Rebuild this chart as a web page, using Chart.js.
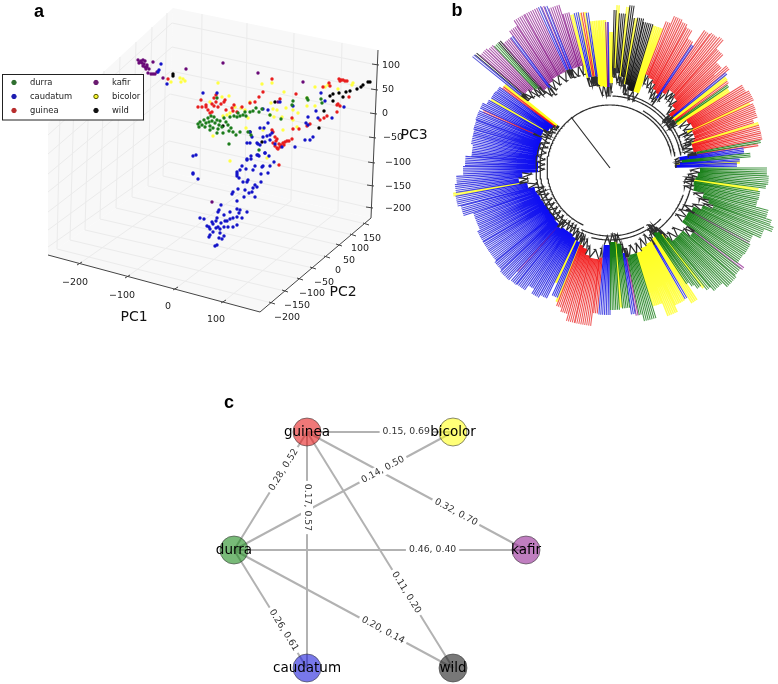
<!DOCTYPE html>
<html>
<head>
<meta charset="utf-8">
<title>Sorghum PCA, tree and network</title>
<script src="https://cdn.jsdelivr.net/npm/chart.js@4"></script>
<style>
    html, body { margin: 0; background: #fff; }
    canvas { position: absolute; }
</style>
</head>
<body>
<canvas id="pcaChart" width="445" height="340" style="left:0;top:0"></canvas>
<canvas id="treeChart" width="333" height="340" style="left:445px;top:0"></canvas>
<canvas id="networkChart" width="360" height="294" style="left:200px;top:390px"></canvas>
<script>
// panel a: projected position of each sample in the plot plane
const durra = [[198,124],[200,122],[202,125],[199,127],[204,120],[206,123],[208,118],[205,127],[209,122],[211,116],[212,121],[210,126],[213,128],[215,123],[217,120],[214,117],[219,125],[220,121],[218,129],[222,127],[224,118],[226,122],[228,125],[231,128],[233,132],[236,135],[229,131],[223,133],[217,133],[210,130],[230,117],[234,116],[237,117],[240,116],[243,115],[238,113],[245,112],[246,116],[250,112],[253,111],[259,112],[256,108],[262,109],[229,144],[240,132],[248,132],[251,135],[293,101],[292,105],[307,98],[308,100],[321,99],[322,103],[281,119],[270,115],[259,150],[217,98]];
const caudatum = [[161,64],[159,70],[158,72],[167,84],[203,93],[217,93],[193,156],[196,155],[193,173],[193,174],[198,179],[250,132],[252,137],[247,143],[250,143],[257,143],[258,144],[260,145],[263,137],[267,136],[270,135],[265,142],[260,128],[264,128],[268,123],[263,109],[268,110],[257,155],[259,156],[265,153],[247,159],[251,156],[274,162],[269,156],[295,147],[305,140],[310,140],[313,137],[306,123],[308,117],[318,118],[316,111],[321,93],[325,101],[332,118],[344,107],[293,106],[280,102],[308,125],[282,147],[275,144],[272,133],[270,140],[247,160],[242,166],[251,159],[258,155],[265,153],[270,166],[263,166],[262,167],[255,166],[253,170],[246,169],[240,170],[237,172],[237,176],[239,178],[237,174],[261,174],[268,173],[261,182],[255,185],[248,180],[247,182],[243,182],[257,187],[253,188],[252,192],[249,193],[245,190],[238,189],[233,192],[232,194],[244,197],[255,197],[237,201],[221,205],[219,210],[218,212],[237,209],[240,210],[230,212],[247,212],[224,215],[239,213],[237,217],[233,218],[230,219],[227,221],[225,221],[242,218],[200,218],[204,219],[217,218],[216,221],[212,222],[221,223],[213,224],[207,226],[209,227],[210,229],[216,228],[218,227],[220,229],[224,227],[228,227],[233,227],[237,225],[213,232],[210,235],[209,237],[220,233],[224,236],[219,238],[222,239],[217,245],[215,246]];
const guinea = [[201,100],[206,105],[198,107],[202,107],[206,107],[208,110],[210,113],[212,104],[214,106],[216,102],[218,107],[221,104],[224,102],[226,110],[232,108],[233,111],[234,105],[237,112],[242,107],[214,98],[216,95],[225,100],[212,112],[250,103],[255,102],[259,97],[263,92],[272,79],[296,94],[280,99],[292,118],[293,129],[299,129],[307,126],[310,124],[273,143],[275,146],[277,148],[279,144],[281,145],[283,143],[285,142],[287,141],[289,141],[276,141],[278,149],[280,147],[284,145],[292,139],[272,130],[273,132],[275,137],[277,139],[339,79],[341,80],[343,80],[345,81],[347,81],[340,81],[323,87],[329,83],[330,86],[337,105],[338,104],[340,106],[337,112],[349,97],[324,118],[320,120],[327,116],[279,165],[168,79]];
const kafir = [[138,60],[141,61],[143,60],[145,61],[139,63],[142,63],[144,64],[147,65],[140,62],[143,66],[145,67],[147,67],[149,69],[146,69],[151,74],[148,73],[153,74],[155,74],[157,72],[153,62],[163,78],[186,69],[223,63],[258,73],[303,82],[212,202],[278,102]];
const bicolor = [[180,78],[183,79],[181,82],[185,81],[171,82],[218,83],[229,96],[222,97],[210,102],[262,84],[272,83],[284,92],[250,102],[245,110],[241,108],[235,107],[227,115],[223,116],[230,113],[213,136],[230,161],[267,158],[271,103],[273,109],[277,110],[270,115],[274,117],[282,117],[286,108],[293,110],[298,113],[293,120],[283,130],[297,127],[307,106],[307,98],[315,106],[315,87],[325,87],[328,85],[338,89],[352,85],[353,83],[248,118],[246,128],[263,130]];
const wild = [[370,82],[368,82],[363,85],[361,87],[357,89],[350,91],[346,92],[343,97],[339,93],[333,94],[333,101],[330,96],[324,111],[319,128],[275,102],[223,126],[250,132],[262,142],[173,74],[173,76]];

const groupNames = ['durra', 'caudatum', 'guinea', 'kafir', 'bicolor', 'wild'];
const groupPoints = [durra, caudatum, guinea, kafir, bicolor, wild];
const dotColors = ['#1c7c1c', '#1414c8', '#e81e1e', '#6a0a78', '#ffff44', '#000000'];
const legendColors = ['#2f6f2f', '#1c1cb0', '#b82c2c', '#6a1a70', '#f4f430', '#111111'];

const pc1Ticks = ['\u2212200', '\u2212100', '0', '100'];
const pc2Ticks = ['\u2212200', '\u2212150', '\u2212100', '\u221250', '0', '50', '100', '150'];
const pc3Ticks = ['100', '50', '0', '\u221250', '\u2212100', '\u2212150', '\u2212200'];

// plot box of panel a
const leftWall = [[48,123],[173,8],[168,172],[48,255]];
const backWall = [[173,8],[378,50],[371,218],[168,172]];
const floorPane = [[48,255],[260,312],[371,218],[168,172]];
const pc1Front = [[79,264],[127,277],[175,289],[223,302]];
const pc1Back = [[200,179],[245,190],[291,201],[338,211]];
const pc1Top = [[202,14],[247,23],[294,33],[342,43]];
const pc2Front = [[272,303],[285,291],[300,279],[313,268],[327,257],[339,245],[353,235],[366,224]];
const pc2Back = [[57,249],[70,240],[85,230],[100,219],[116,208],[132,197],[148,186],[163,176]];
const pc2Top = [[60,112],[74,99],[89,85],[104,71],[120,57],[136,42],[152,27],[167,13]];
const pc3Right = [[377,65],[376,90],[375,114],[374,138],[373,163],[372,186],[371,208]];
const pc3Back = [[172,23],[172,47],[171,71],[170,94],[170,118],[169,141],[169,162]];
const pc3Left = [[48,135],[48,154],[48,174],[48,192],[48,212],[48,230],[48,247]];
const pc1LabelPos = [[75,283],[122,296],[168,307],[216,320]];
const pc2LabelPos = [[287,318],[297,306],[312,294],[324,283],[338,271],[349,261],[360,249],[372,239]];
const pc3LabelPos = [[391,66],[388,90],[385,114],[393,138],[398,163],[398,187],[398,209]];

// panel b: leaf runs, angle in degrees clockwise from east, radius in tree units
const runStart = [0,3,6,8,9,12,15,18,20,22,25,27.9,28.8,33,36.7,37.7,41,46,50,51.5,52.5,54.5,55.8,56.6,59.4,60.8,65,69,73,78,79.2,80.2,82,85.2,86.2,90,95,97,103,106,109,111.2,112.2,115,116,119,122,125,129,131.2,132.2,137,141,146,150,155,160,162,166,170,171,174,177,181,185,190,196,200,203.8,204.8,207,209.6,210.6,214,216.6,217.5,219,220,221,224,226.5,228.5,229.5,232.8,233.8,237,241,246,247,248,249,253,255.7,257,258.5,259.5,260.5,261.3,262.5,266,268.3,269.3,270,271.5,272.5,273.5,276,277,278.5,279.5,280.5,283,287,291,293,296,298.6,301,303.5,304.5,307,310,312,315,318,318.8,320.5,321.5,323.5,324.8,326,328,331,334.8,335.8,338,341,343,344,347,349.7,350.7,351.5,354,355.5,357,357.8];
const runGroup = ['g','g','g','y','g','g','g','g','g','g','g','k','g','g','k','g','g','g','g','y','g','g','g','y','c','y','y','y','g','g','k','c','g','y','g','c','r','r','r','r','r','y','c','y','c','c','c','c','c','k','c','c','c','c','c','c','c','c','c','y','c','c','c','c','c','c','c','c','r','c','c','y','c','c','r','y','c','w','k','k','g','w','k','c','k','k','k','c','k','c','k','k','y','c','y','r','y','c','y','y','k','c','y','w','y','w','y','w','w','y','w','w','y','r','r','r','r','r','c','r','r','r','r','r','r','r','c','y','r','g','y','r','r','y','r','r','r','y','r','r','g','r','c','g','c','y','c'];
const runInner = [90,88,86,85,85,86,97,104,110,100,92,96,90,90,106,105,96,96,90,84,80,78,77,82,89,84,86,89,89,91,91,86,76,74,74,77,90,92,90,84,82,80,80,80,78,76,76,76,78,79,76,74,74,74,75,76,77,78,84,92,92,88,72,72,73,73,73,74,84,76,76,77,72,70,68,68,115,115,113,110,108,108,102,100,104,106,106,107,107,106,106,106,93,93,93,93,93,92,82,81,81,81,85,100,100,95,92,92,92,85,85,80,80,100,98,95,90,88,84,92,98,98,95,88,79,80,82,80,80,80,80,90,92,85,90,90,88,85,85,85,88,88,70,72,70,65,65];
const runOuter = [157,159,157,150,152,151,164,170,174,166,158,158,160,159,167,165,167,161,156,152,149,144,139,158,151,152,159,145,157,150,150,148,141,140,142,147,146,159,159,152,148,144,140,127,145,148,143,149,150,139,151,149,147,147,147,144,144,154,157,159,156,154,147,145,139,141,142,143,139,143,139,137,138,137,134,134,177,176,172,170,168,168,164,164,170,176,176,176,175,174,171,161,158,159,158,158,158,157,148,148,146,146,136,158,163,155,162,164,152,152,153,150,149,157,165,163,160,151,148,167,169,171,160,150,140,155,150,147,146,144,142,156,159,154,157,156,151,155,155,155,153,150,135,141,130,130,127];
const leafColors = { g: '#0c780c', y: '#ffff10', c: '#0606f4', r: '#f41010', k: '#7d0a7d', w: '#111111' };
const leafTipColors = { g: '#5aa25a', y: '#ffff60', c: '#6464dc', r: '#ee6c6c', k: '#b060b0', w: '#3a3a3a' };

// panel b: main branches of the tree
const arcRadius = [63,66,72,75,63,70,74,68,72,78,83];
const arcStart = [233,300,272,280,115,120,130,60,45,20,5];
const arcEnd = [345,350,350,345,233,218,200,115,105,60,30];
const rootLine = [[-39,-51],[0,0]];
const treeXRange = [-165, 168];
const treeYRange = [-168, 172];

// panel c
const nodeNames = ['guinea', 'bicolor', 'durra', 'kafir', 'caudatum', 'wild'];
const nodeX = [307, 453, 234, 526, 307, 453];
const nodeY = [432, 432, 550, 550, 668, 668];
const nodeColors = ['rgba(230,30,30,.6)', 'rgba(255,255,30,.6)', 'rgba(30,140,30,.6)', 'rgba(150,40,150,.6)', 'rgba(30,30,220,.6)', 'rgba(30,30,30,.6)'];
const edgeFrom = ['guinea', 'durra', 'durra', 'guinea', 'guinea', 'durra', 'guinea', 'durra', 'durra'];
const edgeTo = ['bicolor', 'guinea', 'bicolor', 'caudatum', 'kafir', 'kafir', 'wild', 'caudatum', 'wild'];
const edgeValues = ['0.15, 0.69', '0.28, 0.52', '0.14, 0.50', '0.17, 0.57', '0.32, 0.70', '0.46, 0.40', '0.11, 0.20', '0.26, 0.61', '0.20, 0.14'];
const edgeLabelAt = [0.68, 0.68, 0.68, 0.32, 0.68, 0.68, 0.68, 0.68, 0.68];

const panelLetters = ['a', 'b', 'c'];

function plainOptions(xMin, xMax, yMin, yMax) {
    return {
        responsive: false,
        animation: false,
        events: [],
        layout: { padding: 0, autoPadding: false },
        plugins: { legend: { display: false }, tooltip: { enabled: false } },
        scales: {
            x: { type: 'linear', display: false, min: xMin, max: xMax },
            y: { type: 'linear', display: false, min: yMin, max: yMax, reverse: true }
        }
    };
}

function pixel(chart, p) {
    return [chart.scales.x.getPixelForValue(p[0]), chart.scales.y.getPixelForValue(p[1])];
}

function drawSegment(chart, p, q, color, width) {
    const ctx = chart.ctx;
    const a = pixel(chart, p);
    const b = pixel(chart, q);
    ctx.strokeStyle = color;
    ctx.lineWidth = width;
    ctx.beginPath();
    ctx.moveTo(a[0], a[1]);
    ctx.lineTo(b[0], b[1]);
    ctx.stroke();
}

function drawPane(chart, corners) {
    const ctx = chart.ctx;
    ctx.fillStyle = '#f8f8f8';
    ctx.beginPath();
    corners.forEach((c, i) => {
        const a = pixel(chart, c);
        if (i === 0) ctx.moveTo(a[0], a[1]); else ctx.lineTo(a[0], a[1]);
    });
    ctx.closePath();
    ctx.fill();
}

function drawText(chart, text, p, font, color) {
    const ctx = chart.ctx;
    const a = pixel(chart, p);
    ctx.font = font;
    ctx.fillStyle = color;
    ctx.textAlign = 'center';
    ctx.textBaseline = 'middle';
    ctx.fillText(text, a[0], a[1]);
}

// box, grid and axes of the 3D plot sit behind the dots
const pcaBoxPlugin = {
    id: 'pcaBox',
    beforeDatasetsDraw(chart) {
        const grid = '#ebebeb';
        const axis = '#444444';
        [leftWall, backWall, floorPane].forEach(pane => drawPane(chart, pane));
        pc1Front.forEach((p, i) => {
            drawSegment(chart, p, pc1Back[i], grid, 1);
            drawSegment(chart, pc1Back[i], pc1Top[i], grid, 1);
        });
        pc2Front.forEach((p, i) => {
            drawSegment(chart, p, pc2Back[i], grid, 1);
            drawSegment(chart, pc2Back[i], pc2Top[i], grid, 1);
        });
        pc3Right.forEach((p, i) => {
            drawSegment(chart, p, pc3Back[i], grid, 1);
            drawSegment(chart, pc3Back[i], pc3Left[i], grid, 1);
        });
        drawSegment(chart, floorPane[0], floorPane[1], axis, 1);
        drawSegment(chart, floorPane[1], floorPane[2], axis, 1);
        drawSegment(chart, backWall[1], backWall[2], axis, 1);
        pc1Front.forEach(p => drawSegment(chart, [p[0] - 2, p[1] + 1], [p[0] + 3, p[1] - 2], axis, 1));
        pc2Front.forEach(p => drawSegment(chart, [p[0] - 3, p[1] - 1], [p[0] + 3, p[1] + 1], axis, 1));
        pc3Right.forEach(p => drawSegment(chart, [p[0] - 5, p[1] - 1], [p[0] + 2, p[1]], axis, 1));
    },
    afterDraw(chart) {
        const ctx = chart.ctx;
        const tickFont = '9.5px "DejaVu Sans"';
        const titleFont = '14px "DejaVu Sans"';
        pc1Ticks.forEach((t, i) => drawText(chart, t, pc1LabelPos[i], tickFont, '#222'));
        pc2Ticks.forEach((t, i) => drawText(chart, t, pc2LabelPos[i], tickFont, '#222'));
        pc3Ticks.forEach((t, i) => drawText(chart, t, pc3LabelPos[i], tickFont, '#222'));
        drawText(chart, 'PC1', [134, 317], titleFont, '#111');
        drawText(chart, 'PC2', [343, 292], titleFont, '#111');
        drawText(chart, 'PC3', [414, 135], titleFont, '#111');
        drawText(chart, panelLetters[0], [39, 12], 'bold 18px "Liberation Sans"', '#000');

        // legend box
        const a = pixel(chart, [2.5, 74.5]);
        const b = pixel(chart, [143.5, 120]);
        ctx.fillStyle = '#fff';
        ctx.strokeStyle = '#222';
        ctx.lineWidth = 1;
        ctx.fillRect(a[0], a[1], b[0] - a[0], b[1] - a[1]);
        ctx.strokeRect(a[0], a[1], b[0] - a[0], b[1] - a[1]);
        groupNames.forEach((name, i) => {
            const col = i < 3 ? 0 : 1;
            const row = i % 3;
            const m = pixel(chart, [14 + col * 82, 82.5 + row * 14]);
            ctx.fillStyle = legendColors[i];
            ctx.strokeStyle = i === 4 ? '#555500' : legendColors[i];
            ctx.beginPath();
            ctx.arc(m[0], m[1], 2.2, 0, Math.PI * 2);
            ctx.fill();
            ctx.stroke();
            ctx.font = '8.4px "DejaVu Sans"';
            ctx.fillStyle = '#222';
            ctx.textAlign = 'left';
            ctx.textBaseline = 'middle';
            ctx.fillText(name, 30 + col * 82, m[1]);
        });
    }
};

new Chart(document.getElementById('pcaChart'), {
    type: 'scatter',
    data: {
        datasets: groupNames.map((name, i) => ({
            label: name,
            data: groupPoints[i].map(p => ({ x: p[0], y: p[1] })),
            backgroundColor: dotColors[i],
            borderWidth: 0,
            pointRadius: 1.7
        }))
    },
    options: plainOptions(0, 445, 0, 340),
    plugins: [pcaBoxPlugin]
});

// polar reading to chart units
const polar = (angle, radius) => {
    const t = angle * Math.PI / 180;
    return { x: radius * Math.cos(t), y: radius * Math.sin(t) };
};
const gap = { x: NaN, y: NaN };

const leafSpacing = 0.72;
const leafData = { g: [], y: [], c: [], r: [], k: [], w: [] };
const treeData = [];

runStart.forEach((start, i) => {
    const end = i + 1 < runStart.length ? runStart[i + 1] : 359.5;
    const inner = runInner[i];
    const outer = runOuter[i];
    let last = start;
    for (let a = start; a < end - 0.01; a += leafSpacing) {
        leafData[runGroup[i]].push(polar(a, inner), polar(a, outer), gap);
        last = a;
    }
    // jagged bracket joining the leaves of this run
    const mid = (start + last) / 2;
    const stem = Math.max(inner - 9, 66);
    treeData.push(polar(start, inner), polar(mid, stem), polar(last, inner), gap);
    treeData.push(polar(mid, stem), polar(mid + 1.5, stem), gap);
});

arcRadius.forEach((r, i) => {
    for (let a = arcStart[i]; a <= arcEnd[i]; a += 1) {
        treeData.push(polar(a, r));
    }
    treeData.push(gap);
});
rootLine.forEach(p => treeData.push({ x: p[0], y: p[1] }));

// leaves fade towards their tips; the scales are not laid out yet when this resolves
function leafGradient(context, key) {
    const chart = context.chart;
    const x0 = chart.width * -treeXRange[0] / (treeXRange[1] - treeXRange[0]);
    const y0 = chart.height * -treeYRange[0] / (treeYRange[1] - treeYRange[0]);
    const g = chart.ctx.createRadialGradient(x0, y0, 70, x0, y0, 170);
    g.addColorStop(0, leafColors[key]);
    g.addColorStop(1, leafTipColors[key]);
    return g;
}

const treeLetterPlugin = {
    id: 'treeLetter',
    afterDraw(chart) {
        drawText(chart, panelLetters[1], [-153, -157], 'bold 18px "Liberation Sans"', '#000');
    }
};

new Chart(document.getElementById('treeChart'), {
    type: 'scatter',
    data: {
        datasets: [
            { data: treeData, showLine: true, spanGaps: false, borderColor: '#2e2e2e', borderWidth: 1.2, pointRadius: 0 }
        ].concat(['g', 'c', 'r', 'k', 'w', 'y'].map(key => ({
            data: leafData[key],
            showLine: true,
            spanGaps: false,
            borderColor: context => leafGradient(context, key),
            borderWidth: key === 'y' ? 1.6 : 1.1,
            pointRadius: 0
        })))
    },
    options: plainOptions(treeXRange[0], treeXRange[1], treeYRange[0], treeYRange[1]),
    plugins: [treeLetterPlugin]
});

const nodePoint = name => {
    const i = nodeNames.indexOf(name);
    return [nodeX[i], nodeY[i]];
};

const networkLabelPlugin = {
    id: 'networkLabels',
    afterDatasetsDraw(chart) {
        const ctx = chart.ctx;
        // white gap in each edge under its two numbers
        edgeValues.forEach((text, i) => {
            const p = pixel(chart, nodePoint(edgeFrom[i]));
            const q = pixel(chart, nodePoint(edgeTo[i]));
            const t = edgeLabelAt[i];
            let angle = Math.atan2(q[1] - p[1], q[0] - p[0]);
            if (angle > Math.PI / 2 + 0.01) angle -= Math.PI;
            if (angle < -Math.PI / 2 - 0.01) angle += Math.PI;
            ctx.save();
            ctx.translate(p[0] + (q[0] - p[0]) * t, p[1] + (q[1] - p[1]) * t);
            ctx.rotate(angle);
            ctx.font = '9.3px "DejaVu Sans"';
            const w = ctx.measureText(text).width + 6;
            ctx.fillStyle = '#fff';
            ctx.fillRect(-w / 2, -6, w, 12);
            ctx.fillStyle = '#333';
            ctx.textAlign = 'center';
            ctx.textBaseline = 'middle';
            ctx.fillText(text, 0, 0);
            ctx.restore();
        });
        nodeNames.forEach((name, i) => {
            drawText(chart, name, [nodeX[i], nodeY[i]], '13.5px "DejaVu Sans"', '#000');
        });
        drawText(chart, panelLetters[2], [229, 403], 'bold 18px "Liberation Sans"', '#000');
    }
};

new Chart(document.getElementById('networkChart'), {
    type: 'scatter',
    data: {
        datasets: [
            {
                data: nodeNames.map((name, i) => ({ x: nodeX[i], y: nodeY[i] })),
                backgroundColor: nodeColors,
                borderColor: 'rgba(60,60,60,.6)',
                borderWidth: 1,
                pointRadius: 14
            }
        ].concat(edgeFrom.map((from, i) => {
            const p = nodePoint(from);
            const q = nodePoint(edgeTo[i]);
            return {
                data: [{ x: p[0], y: p[1] }, { x: q[0], y: q[1] }],
                showLine: true,
                borderColor: '#b2b2b2',
                borderWidth: 2,
                pointRadius: 0
            };
        }))
    },
    options: plainOptions(200, 560, 390, 684),
    plugins: [networkLabelPlugin]
});
</script>
</body>
</html>
